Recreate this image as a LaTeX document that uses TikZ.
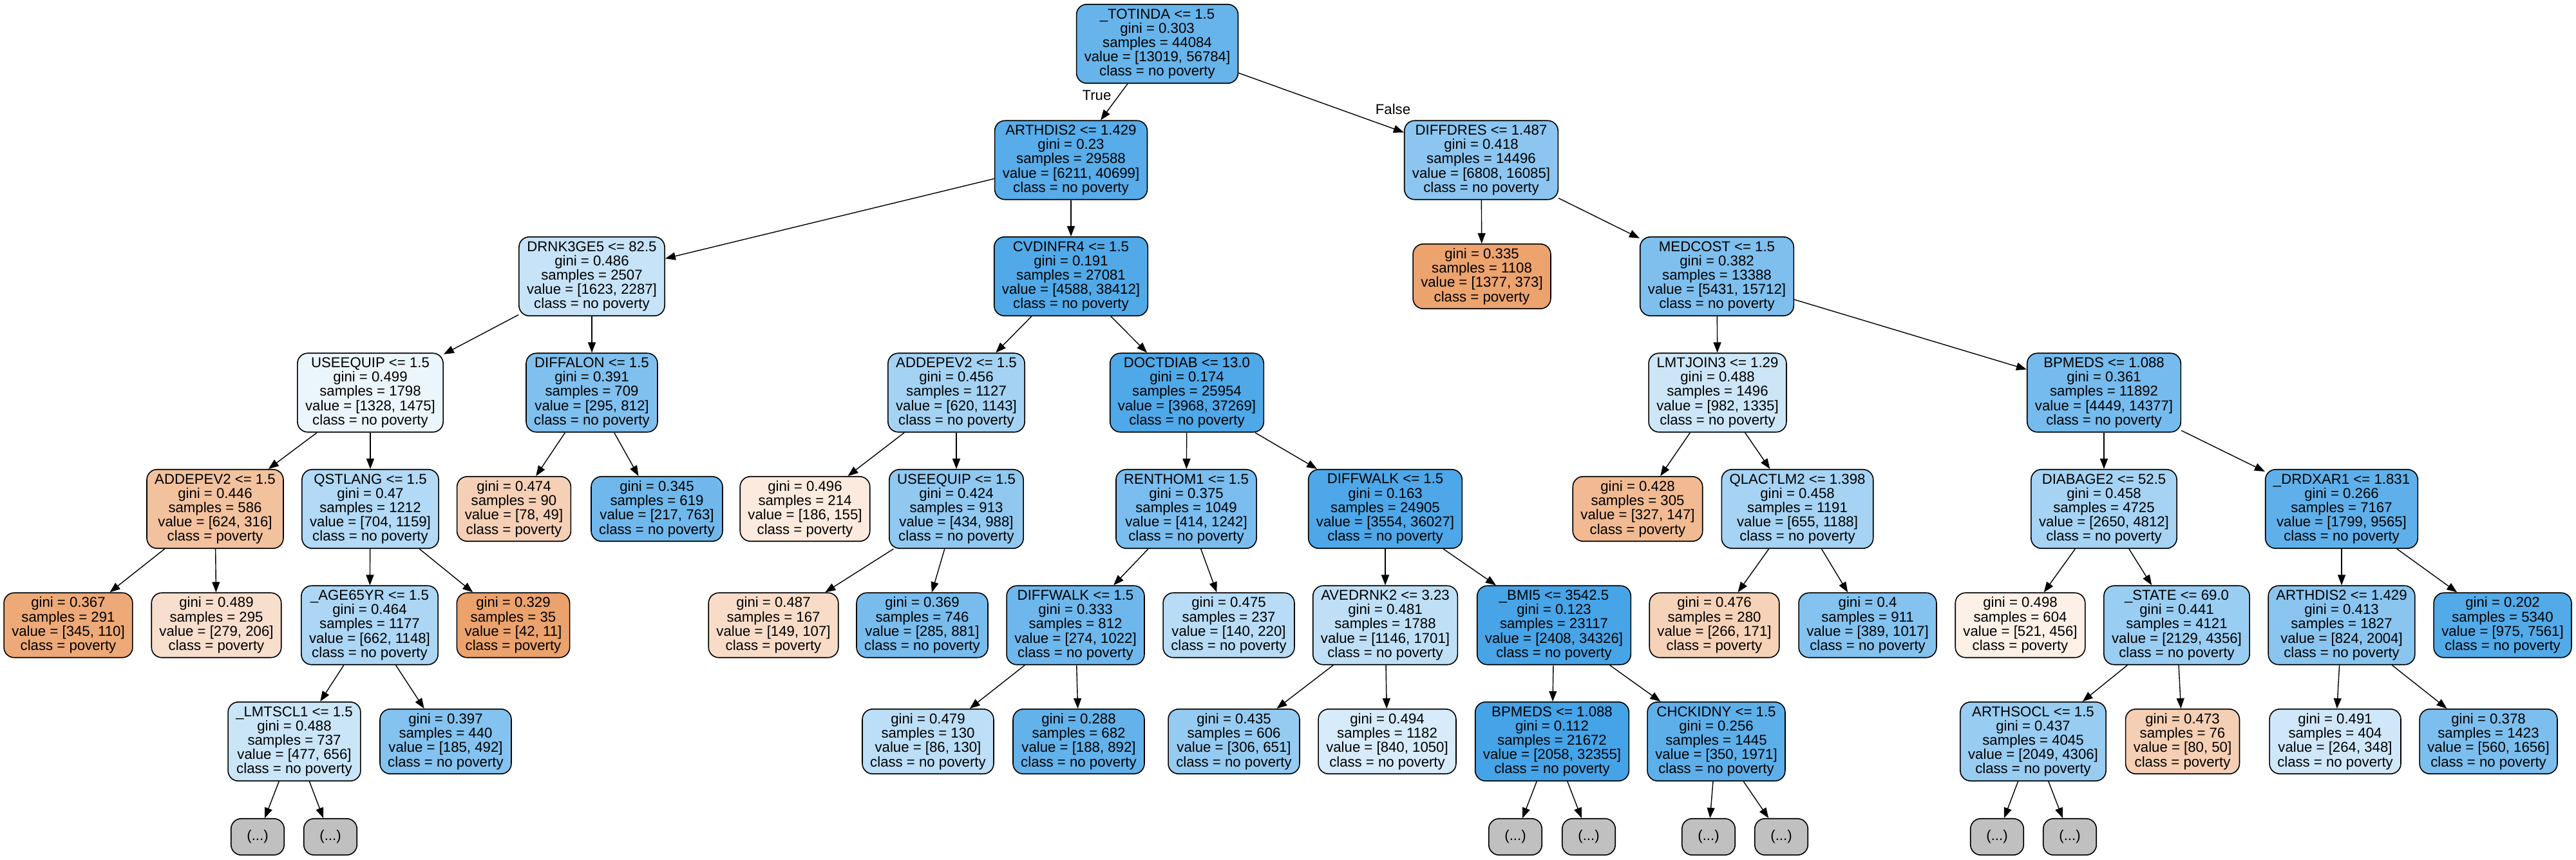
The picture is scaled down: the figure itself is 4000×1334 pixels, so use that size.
\documentclass[tikz,border=0pt]{standalone}
\usepackage{fontspec}
\setmainfont{Liberation Sans}
\usetikzlibrary{arrows.meta}

\definecolor{povc}{RGB}{229,129,57}
\definecolor{nopovc}{RGB}{57,157,229}
\definecolor{morec}{RGB}{192,192,192}

\newcommand{\leaftext}[4]{gini = #1\\samples = #2\\value = #3\\class = #4}
\newcommand{\splittext}[5]{#1\\gini = #2\\samples = #3\\value = #4\\class = #5}

\begin{document}
\begin{tikzpicture}[x=1pt, y=-1pt,
	every node/.style={font=\fontsize{22.2}{22.2}\selectfont},
	box/.style={draw=black, line width=1.6pt, rounded corners=16pt, align=center, inner xsep=12.2pt, inner ysep=2pt},
	splitnode/.style={box, minimum height=122.5pt},
	leafnode/.style={box, minimum height=100.5pt},
	morenode/.style={box, fill=morec, minimum height=56.5pt, minimum width=82.5pt},
	nopov/.style={fill=nopovc!#1!white},
	pov/.style={fill=povc!#1!white},
	edge/.style={-{Triangle[length=16pt, width=12pt]}, line width=1.4pt}]

\useasboundingbox (0, 0) rectangle (4000, 1334);

% rank 0 and 1
\node[splitnode, nopov=77] (totinda) at (1797, 68) {\splittext{\_TOTINDA <= 1.5}{0.303}{44084}{[13019, 56784]}{no poverty}};
\node[splitnode, nopov=85] (arthdis) at (1663, 248.5) {\splittext{ARTHDIS2 <= 1.429}{0.23}{29588}{[6211, 40699]}{no poverty}};
\node[splitnode, nopov=58] (diffdres) at (2300, 248.5) {\splittext{DIFFDRES <= 1.487}{0.418}{14496}{[6808, 16085]}{no poverty}};

% rank 2
\node[splitnode, nopov=29] (drnk) at (919, 429) {\splittext{DRNK3GE5 <= 82.5}{0.486}{2507}{[1623, 2287]}{no poverty}};
\node[splitnode, nopov=88] (cvdinfr) at (1663, 429) {\splittext{CVDINFR4 <= 1.5}{0.191}{27081}{[4588, 38412]}{no poverty}};
\node[leafnode, pov=73] (lfA) at (2301, 429) {\leaftext{0.335}{1108}{[1377, 373]}{poverty}};
\node[splitnode, nopov=65] (medcost) at (2666, 429) {\splittext{MEDCOST <= 1.5}{0.382}{13388}{[5431, 15712]}{no poverty}};

% rank 3
\node[splitnode, nopov=10] (useequipA) at (575, 609.5) {\splittext{USEEQUIP <= 1.5}{0.499}{1798}{[1328, 1475]}{no poverty}};
\node[splitnode, nopov=64] (diffalon) at (919, 609.5) {\splittext{DIFFALON <= 1.5}{0.391}{709}{[295, 812]}{no poverty}};
\node[splitnode, nopov=46] (addepevA) at (1485, 609.5) {\splittext{ADDEPEV2 <= 1.5}{0.456}{1127}{[620, 1143]}{no poverty}};
\node[splitnode, nopov=89] (doctdiab) at (1843, 609.5) {\splittext{DOCTDIAB <= 13.0}{0.174}{25954}{[3968, 37269]}{no poverty}};
\node[splitnode, nopov=26] (lmtjoin) at (2667, 609.5) {\splittext{LMTJOIN3 <= 1.29}{0.488}{1496}{[982, 1335]}{no poverty}};
\node[splitnode, nopov=69] (bpmedsA) at (3267, 609.5) {\splittext{BPMEDS <= 1.088}{0.361}{11892}{[4449, 14377]}{no poverty}};

% rank 4
\node[splitnode, pov=49] (addepevB) at (334, 790) {\splittext{ADDEPEV2 <= 1.5}{0.446}{586}{[624, 316]}{poverty}};
\node[splitnode, nopov=39] (qstlang) at (575, 790) {\splittext{QSTLANG <= 1.5}{0.47}{1212}{[704, 1159]}{no poverty}};
\node[leafnode, pov=37] (lfB) at (798, 790) {\leaftext{0.474}{90}{[78, 49]}{poverty}};
\node[leafnode, nopov=72] (lfC) at (1020, 790) {\leaftext{0.345}{619}{[217, 763]}{no poverty}};
\node[leafnode, pov=17] (lfD) at (1250, 790) {\leaftext{0.496}{214}{[186, 155]}{poverty}};
\node[splitnode, nopov=56] (useequipB) at (1485, 790) {\splittext{USEEQUIP <= 1.5}{0.424}{913}{[434, 988]}{no poverty}};
\node[splitnode, nopov=67] (renthom) at (1842, 790) {\splittext{RENTHOM1 <= 1.5}{0.375}{1049}{[414, 1242]}{no poverty}};
\node[splitnode, nopov=90] (diffwalkA) at (2151, 790) {\splittext{DIFFWALK <= 1.5}{0.163}{24905}{[3554, 36027]}{no poverty}};
\node[leafnode, pov=55] (lfE) at (2543, 790) {\leaftext{0.428}{305}{[327, 147]}{poverty}};
\node[splitnode, nopov=45] (qlactlm) at (2791, 790) {\splittext{QLACTLM2 <= 1.398}{0.458}{1191}{[655, 1188]}{no poverty}};
\node[splitnode, nopov=45] (diabage) at (3267, 790) {\splittext{DIABAGE2 <= 52.5}{0.458}{4725}{[2650, 4812]}{no poverty}};
\node[splitnode, nopov=81] (drdxar) at (3636, 790) {\splittext{\_DRDXAR1 <= 1.831}{0.266}{7167}{[1799, 9565]}{no poverty}};

% rank 5
\node[leafnode, pov=68] (lfF) at (106, 970.5) {\leaftext{0.367}{291}{[345, 110]}{poverty}};
\node[leafnode, pov=26] (lfG) at (336, 970.5) {\leaftext{0.489}{295}{[279, 206]}{poverty}};
\node[splitnode, nopov=42] (age65) at (574, 970.5) {\splittext{\_AGE65YR <= 1.5}{0.464}{1177}{[662, 1148]}{no poverty}};
\node[leafnode, pov=74] (lfH) at (797, 970.5) {\leaftext{0.329}{35}{[42, 11]}{poverty}};
\node[leafnode, pov=28] (lfI) at (1201, 970.5) {\leaftext{0.487}{167}{[149, 107]}{poverty}};
\node[leafnode, nopov=68] (lfJ) at (1432, 970.5) {\leaftext{0.369}{746}{[285, 881]}{no poverty}};
\node[splitnode, nopov=73] (diffwalkB) at (1670, 970.5) {\splittext{DIFFWALK <= 1.5}{0.333}{812}{[274, 1022]}{no poverty}};
\node[leafnode, nopov=36] (lfK) at (1908, 970.5) {\leaftext{0.475}{237}{[140, 220]}{no poverty}};
\node[splitnode, nopov=33] (avedrnk) at (2151, 970.5) {\splittext{AVEDRNK2 <= 3.23}{0.481}{1788}{[1146, 1701]}{no poverty}};
\node[splitnode, nopov=93] (bmi) at (2413, 970.5) {\splittext{\_BMI5 <= 3542.5}{0.123}{23117}{[2408, 34326]}{no poverty}};
\node[leafnode, pov=36] (lfL) at (2662, 970.5) {\leaftext{0.476}{280}{[266, 171]}{poverty}};
\node[leafnode, nopov=62] (lfM) at (2900, 970.5) {\leaftext{0.4}{911}{[389, 1017]}{no poverty}};
\node[leafnode, pov=12] (lfN) at (3137, 970.5) {\leaftext{0.498}{604}{[521, 456]}{poverty}};
\node[splitnode, nopov=51] (state) at (3380, 970.5) {\splittext{\_STATE <= 69.0}{0.441}{4121}{[2129, 4356]}{no poverty}};
\node[splitnode, nopov=59] (arthdisB) at (3636, 970.5) {\splittext{ARTHDIS2 <= 1.429}{0.413}{1827}{[824, 2004]}{no poverty}};
\node[leafnode, nopov=87] (lfO) at (3886, 970.5) {\leaftext{0.202}{5340}{[975, 7561]}{no poverty}};

% rank 6
\node[splitnode, nopov=27] (lmtscl) at (457, 1151) {\splittext{\_LMTSCL1 <= 1.5}{0.488}{737}{[477, 656]}{no poverty}};
\node[leafnode, nopov=62] (lfP) at (692, 1151) {\leaftext{0.397}{440}{[185, 492]}{no poverty}};
\node[leafnode, nopov=34] (lfQ) at (1441, 1151) {\leaftext{0.479}{130}{[86, 130]}{no poverty}};
\node[leafnode, nopov=79] (lfR) at (1675, 1151) {\leaftext{0.288}{682}{[188, 892]}{no poverty}};
\node[leafnode, nopov=53] (lfS) at (1916, 1151) {\leaftext{0.435}{606}{[306, 651]}{no poverty}};
\node[leafnode, nopov=20] (lfT) at (2154, 1151) {\leaftext{0.494}{1182}{[840, 1050]}{no poverty}};
\node[splitnode, nopov=94] (bpmedsB) at (2410, 1151) {\splittext{BPMEDS <= 1.088}{0.112}{21672}{[2058, 32355]}{no poverty}};
\node[splitnode, nopov=82] (chckidny) at (2665, 1151) {\splittext{CHCKIDNY <= 1.5}{0.256}{1445}{[350, 1971]}{no poverty}};
\node[splitnode, nopov=52] (arthsocl) at (3157, 1151) {\splittext{ARTHSOCL <= 1.5}{0.437}{4045}{[2049, 4306]}{no poverty}};
\node[leafnode, pov=38] (lfU) at (3389, 1151) {\leaftext{0.473}{76}{[80, 50]}{poverty}};
\node[leafnode, nopov=24] (lfV) at (3626, 1151) {\leaftext{0.491}{404}{[264, 348]}{no poverty}};
\node[leafnode, nopov=66] (lfW) at (3864, 1151) {\leaftext{0.378}{1423}{[560, 1656]}{no poverty}};

% rank 7, cut off subtrees
\foreach \nm/\x in {m1/400, m2/513, m3/2353, m4/2467, m5/2653, m6/2766, m7/3101, m8/3214}
\node[morenode] (\nm) at (\x, 1299) {(...)};

% edges
\foreach \a/\b in {
	totinda/arthdis, totinda/diffdres,
	arthdis/drnk, arthdis/cvdinfr, diffdres/lfA, diffdres/medcost,
	drnk/useequipA, drnk/diffalon, cvdinfr/addepevA, cvdinfr/doctdiab,
	medcost/lmtjoin, medcost/bpmedsA,
	useequipA/addepevB, useequipA/qstlang, diffalon/lfB, diffalon/lfC,
	addepevA/lfD, addepevA/useequipB, doctdiab/renthom, doctdiab/diffwalkA,
	lmtjoin/lfE, lmtjoin/qlactlm, bpmedsA/diabage, bpmedsA/drdxar,
	addepevB/lfF, addepevB/lfG, qstlang/age65, qstlang/lfH,
	useequipB/lfI, useequipB/lfJ, renthom/diffwalkB, renthom/lfK,
	diffwalkA/avedrnk, diffwalkA/bmi, qlactlm/lfL, qlactlm/lfM,
	diabage/lfN, diabage/state, drdxar/arthdisB, drdxar/lfO,
	age65/lmtscl, age65/lfP, diffwalkB/lfQ, diffwalkB/lfR,
	avedrnk/lfS, avedrnk/lfT, bmi/bpmedsB, bmi/chckidny,
	state/arthsocl, state/lfU, arthdisB/lfV, arthdisB/lfW,
	lmtscl/m1, lmtscl/m2, bpmedsB/m3, bpmedsB/m4,
	chckidny/m5, chckidny/m6, arthsocl/m7, arthsocl/m8}
\draw[edge] (\a) -- (\b);

\node (truelbl) at (1703, 148) {True};
\node (falselbl) at (2163, 170) {False};

\end{tikzpicture}
\end{document}
